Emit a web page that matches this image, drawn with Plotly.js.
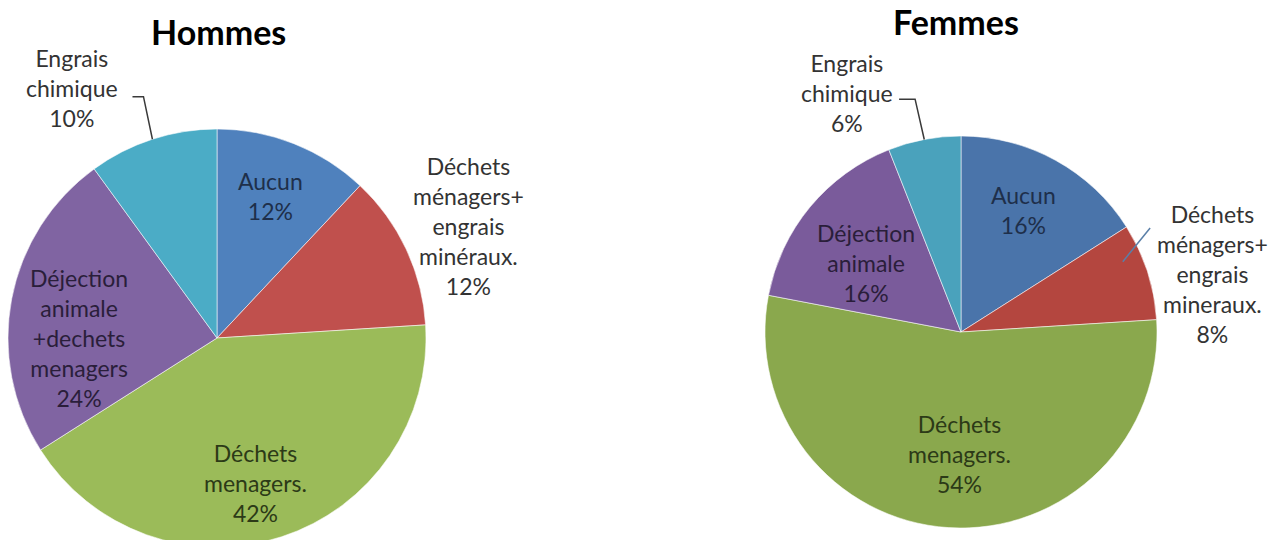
<!DOCTYPE html>
<html>
<head>
<meta charset="utf-8">
<script src="https://cdn.plot.ly/plotly-3.0.1.min.js"></script>
<style>
html,body{margin:0;padding:0;overflow:hidden;background:#fff;}
#chart{width:1268px;height:560px;}
</style>
</head>
<body>
<div id="chart"></div>
<script>
// ---- data ----
const chartTitles = ['Hommes', 'Femmes'];
const hommesLabels = ['Aucun', 'Déchets<br>ménagers+<br>engrais<br>minéraux.', 'Déchets<br>menagers.', 'Déjection<br>animale<br>+dechets<br>menagers', 'Engrais<br>chimique'];
const hommesValues = [12, 12, 42, 24, 10];
const femmesLabels = ['Aucun', 'Déchets<br>ménagers+<br>engrais<br>mineraux.', 'Déchets<br>menagers.', 'Déjection<br>animale', 'Engrais<br>chimique'];
const femmesValues = [16, 8, 54, 16, 6];

// ---- style / layout ----
const W = 1268, H = 560;
const FONT = 'Lato, "Open Sans", sans-serif';
const pies = [
  {labels: hommesLabels, values: hommesValues, cx: 217, cy: 338, r: 209, titleX: 218, titleY: 31,
   colors: ['#4F81BD', '#C0504D', '#9BBB59', '#8064A2', '#4BACC6'],
   // per slice: [angle offset deg, radial fraction, outside?]
   lab: [[-1, 0.725, 0], [1.2, 1.315, 1], [3, 0.72, 0], [-11, 0.66, 0], [-12, 1.383, 1]],
   leaders: {4: {start: [0, 1.0], pts: [[71, 9], [60, 9]], color: '#3a3a3a'}}},
  {labels: femmesLabels, values: femmesValues, cx: 961, cy: 332, r: 196, titleX: 956, titleY: 22,
   colors: ['#4A74AA', '#B4463F', '#8AA84D', '#7A5B9B', '#4AA2BC'],
   lab: [[-1.5, 0.70, 0], [5, 1.315, 1], [-3, 0.62, 0], [-3.6, 0.60, 0], [-14.7, 1.35, 1]],
   leaders: {4: {start: [0, 1.0], pts: [[68, 6], [52, 6]], color: '#3a3a3a'},
             1: {start: [-5.5, 0.9], pts: [[-62, -46]], color: '#5A7FA8'}}}
];
const insideTextColors = ['#1E2F4A', '#3A1816', '#2C3A17', '#2A1E3A', '#173A44'];
const outsideTextColor = '#333333';

const traces = [], annotations = [], shapes = [];
const px = x => x / W, py = y => 1 - y / H;

pies.forEach((p, k) => {
  traces.push({
    type: 'pie', labels: p.labels, values: p.values, sort: false, direction: 'clockwise', rotation: 0,
    textinfo: 'none', hoverinfo: 'label+percent', showlegend: false,
    marker: {colors: p.colors, line: {color: 'rgba(255,255,255,0.55)', width: 1}},
    domain: {x: [px(p.cx - p.r), px(p.cx + p.r)], y: [py(p.cy + p.r), py(p.cy - p.r)]}
  });
  annotations.push({text: '<b>' + chartTitles[k] + '</b>', xref: 'paper', yref: 'paper',
    x: px(p.titleX), y: py(p.titleY), xanchor: 'center', yanchor: 'middle', showarrow: false,
    font: {family: FONT, size: 34, color: '#000'}});
  const total = p.values.reduce((a, b) => a + b, 0);
  let cum = 0;
  p.values.forEach((v, i) => {
    const mid = (cum + v / 2) / total * 360;
    cum += v;
    const [dA, frac, outside] = p.lab[i];
    const a = (mid + dA) * Math.PI / 180;
    const lx = p.cx + Math.sin(a) * frac * p.r;
    const ly = p.cy - Math.cos(a) * frac * p.r;
    const pct = Math.round(v / total * 100) + '%';
    annotations.push({text: p.labels[i] + '<br>' + pct, xref: 'paper', yref: 'paper',
      x: px(lx), y: py(ly), xanchor: 'center', yanchor: 'middle', showarrow: false, align: 'center',
      font: {family: FONT, size: 23, color: outside ? outsideTextColor : insideTextColors[i]}});
    const ld = p.leaders[i];
    if (ld) {
      const sa = (mid + ld.start[0]) * Math.PI / 180;
      const sx = p.cx + Math.sin(sa) * ld.start[1] * p.r;
      const sy = p.cy - Math.cos(sa) * ld.start[1] * p.r;
      let path = 'M' + px(sx) + ',' + py(sy);
      ld.pts.forEach(q => { path += ' L' + px(lx + q[0]) + ',' + py(ly + q[1]); });
      shapes.push({type: 'path', xref: 'paper', yref: 'paper', path: path,
        line: {color: ld.color, width: 1.5}});
    }
  });
});

Plotly.newPlot('chart', traces, {
  width: W, height: H, margin: {l: 0, r: 0, t: 0, b: 0},
  paper_bgcolor: '#fff', plot_bgcolor: '#fff',
  annotations: annotations, shapes: shapes
}, {staticPlot: true});
</script>
</body>
</html>
